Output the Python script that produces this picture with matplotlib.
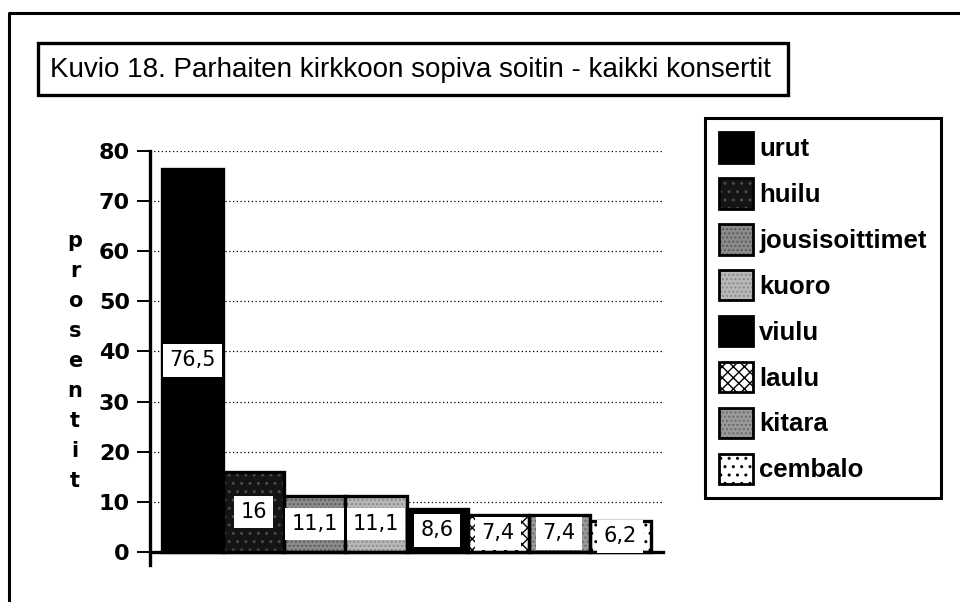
import matplotlib
matplotlib.use('Agg')
import matplotlib.pyplot as plt
from matplotlib.patches import Rectangle, Patch
from matplotlib.lines import Line2D
from matplotlib.legend_handler import HandlerTuple

categories = ['urut', 'huilu', 'jousisoittimet', 'kuoro', 'viulu', 'laulu', 'kitara', 'cembalo']
values = [76.5, 16, 11.1, 11.1, 8.6, 7.4, 7.4, 6.2]
value_labels = ['76,5', '16', '11,1', '11,1', '8,6', '7,4', '7,4', '6,2']
yticks = [0, 10, 20, 30, 40, 50, 60, 70, 80]
title = 'Kuvio 18. Parhaiten kirkkoon sopiva soitin - kaikki konsertit'
ylabel = 'prosentit'

# styles (gray-scale patterns of the scanned original)
face = ['#000000', '#141414', '#8c8c8c', '#b8b8b8', '#000000', '#ffffff', '#9a9a9a', '#ffffff']
hatch = [None, '..', '....', '....', None, 'xxx', '....', '..']
hatch_col = ['#000000', '#4a4a4a', '#5a5a5a', '#8a8a8a', '#000000', '#000000', '#6a6a6a', '#000000']

plt.rcParams['hatch.linewidth'] = 1.0

W, H = 960, 602
fig = plt.figure(figsize=(W / 100, H / 100), dpi=100)
ax = fig.add_axes([150 / W, (H - 565) / H, (663 - 150) / W, (565 - 151) / H])

x = list(range(len(values)))
for i, v in enumerate(values):
    ax.bar(i, v, width=1.0, color=face[i], hatch=hatch[i], edgecolor=hatch_col[i],
           linewidth=0, zorder=2)
ax.bar(x, values, width=1.0, fill=False, edgecolor='black', linewidth=2.4, zorder=3)

for i, (v, lbl) in enumerate(zip(values, value_labels)):
    ax.text(i, v / 2, lbl, ha='center', va='center', fontsize=15, color='black',
            family='DejaVu Sans', zorder=5,
            bbox=dict(facecolor='white', edgecolor='none', boxstyle='square,pad=0.3'))

ax.set_xlim(-0.7, 7.7)
ax.set_ylim(-2.6, 80)
ax.spines['bottom'].set_position(('data', 0))
ax.spines['top'].set_visible(False)
ax.spines['right'].set_visible(False)
ax.spines['left'].set_linewidth(2.4)
ax.spines['bottom'].set_linewidth(2.4)
ax.set_xticks([])
ax.set_yticks(yticks)
ax.set_yticklabels([str(t) for t in yticks], fontsize=16, fontweight='bold', family='DejaVu Sans')
ax.tick_params(axis='y', direction='out', length=9.5, width=1.4, pad=5)
ax.yaxis.grid(True, linestyle=(0, (1, 2)), color='black', linewidth=0.9)
ax.set_axisbelow(True)
ax.patch.set_alpha(0)

# vertical stacked y-label
fig.text(75 / W, 1 - 361 / H, '\n'.join(ylabel), ha='center', va='center', fontsize=15,
         fontweight='bold', family='DejaVu Sans', linespacing=1.62)

# outer frame (top and left edges)
fig.add_artist(Line2D([9 / W, 9 / W, 1], [0, 1 - 13 / H, 1 - 13 / H], lw=2.2, color='black',
                      transform=fig.transFigure))

# title box
fig.add_artist(Rectangle((38 / W, 1 - 95 / H), 750 / W, 52 / H, transform=fig.transFigure,
                         fill=False, lw=2.4, edgecolor='black'))
fig.text(50 / W, 1 - 70 / H, title, ha='left', va='center', fontsize=20, family='Liberation Sans')

# legend
handles = [(Patch(facecolor=face[i], hatch=hatch[i], edgecolor=hatch_col[i], linewidth=0),
            Patch(fill=False, edgecolor='black', linewidth=2.0)) for i in range(len(categories))]
leg = fig.legend(handles, categories, handler_map={tuple: HandlerTuple(ndivide=1, pad=0)},
                 loc='upper left', bbox_to_anchor=(705 / W, 1 - 118 / H), frameon=True,
                 fancybox=False, edgecolor='black', framealpha=1, borderpad=0.55,
                 handlelength=1.3, handleheight=1.45, labelspacing=0.6, handletextpad=0.25,
                 borderaxespad=0, prop=dict(family='Liberation Sans', weight='bold', size=18.5))
leg.get_frame().set_linewidth(2.2)

fig.savefig('out.png', dpi=100)
